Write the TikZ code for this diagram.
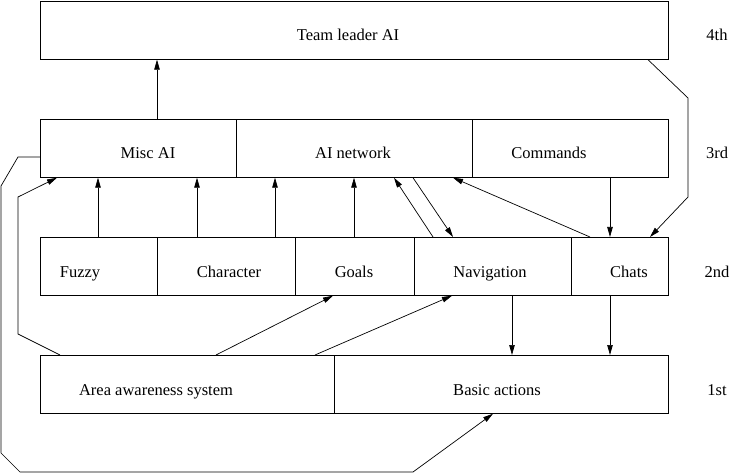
\documentclass[tikz,border=0pt]{standalone}
\usepackage{fontspec}
\setmainfont{Liberation Serif}
\usetikzlibrary{arrows.meta}

\begin{document}
\begin{tikzpicture}[x=1pt, y=-1pt, line width=0.7pt,
  font=\fontsize{16.5}{20}\selectfont,
  box/.style={draw, anchor=north west, inner sep=0pt, minimum height=58pt},
  txt/.style={anchor=base, inner sep=0pt},
  arr/.style={-{Triangle[length=10pt,width=5.5pt]}}]
  \useasboundingbox (0,0) rectangle (734,473);
  % boxes, one row per tier
  \node[box, minimum width=628pt] (lead) at (40,1) {};
  \node[box, minimum width=196pt] (misc) at (40,119) {};
  \node[box, minimum width=236pt] (net) at (236,119) {};
  \node[box, minimum width=196pt] (cmds) at (472,119) {};
  \node[box, minimum width=117pt] (fuzzy) at (40,237) {};
  \node[box, minimum width=138pt] (char) at (157,237) {};
  \node[box, minimum width=119pt] (goals) at (295,237) {};
  \node[box, minimum width=157pt] (nav) at (414,237) {};
  \node[box, minimum width=97pt] (chats) at (571,237) {};
  \node[box, minimum width=294pt] (area) at (40,355) {};
  \node[box, minimum width=334pt] (basic) at (334,355) {};
  % box texts
  \node[txt] (lead-t) at (348,41) {Team leader AI};
  \node[txt] (misc-t) at (148,159) {Misc AI};
  \node[txt] (net-t) at (353,159) {AI network};
  \node[txt] (cmds-t) at (549,159) {Commands};
  \node[txt] (fuzzy-t) at (80,277) {Fuzzy};
  \node[txt] (char-t) at (229,277) {Character};
  \node[txt] (goals-t) at (354,277) {Goals};
  \node[txt] (nav-t) at (490,277) {Navigation};
  \node[txt] (chats-t) at (629,277) {Chats};
  \node[txt] (area-t) at (156,395) {Area awareness system};
  \node[txt] (basic-t) at (497,395) {Basic actions};
  % tiers
  \node[txt] (t4) at (717,41) {4th};
  \node[txt] (t3) at (717,159) {3rd};
  \node[txt] (t2) at (717,277) {2nd};
  \node[txt] (t1) at (717,395) {1st};
  % connectors
  \draw[arr] (157,0 |- misc.north) -- (157,0 |- lead.south);
  \foreach \x/\a/\b in {98/fuzzy/misc, 197/char/misc, 275/char/net, 354/goals/net}
    \draw[arr] (\x,0 |- \a.north) -- (\x,0 |- \b.south);
  \draw[arr] (433,0 |- nav.north) -- (394,0 |- net.south);
  \draw[arr] (413,0 |- net.south) -- (453,0 |- nav.north);
  \draw[arr] (590,0 |- chats.north) -- (453,0 |- net.south);
  \draw[arr] (610,0 |- cmds.south) -- (610,0 |- chats.north);
  \draw[arr] (648,0 |- lead.south) -- (688,98) -- (688,197) -- (650,0 |- chats.north);
  \draw[arr] (512,0 |- nav.south) -- (512,0 |- basic.north);
  \draw[arr] (610,0 |- chats.south) -- (610,0 |- basic.north);
  \draw[arr] (216,0 |- area.north) -- (333,0 |- goals.south);
  \draw[arr] (315,0 |- area.north) -- (452,0 |- nav.south);
  % feedback loops round the left side
  \draw[arr] (misc.west |- 0,157) -- (18,157) -- (1,186) -- (1,453) -- (20,472)
    -- (413,472) -- (493,0 |- basic.south);
  \draw[arr] (60,0 |- area.north) -- (18,334) -- (18,197) -- (57,0 |- misc.south);
\end{tikzpicture}
\end{document}
